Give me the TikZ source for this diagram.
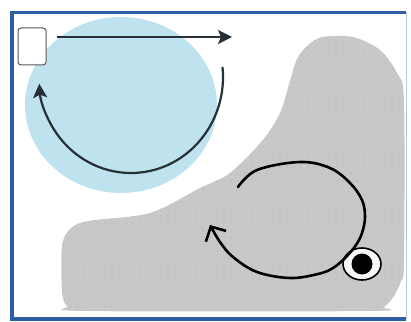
\documentclass[tikz,border=0pt]{standalone}
\usepackage{xcolor}
\usepackage{tikz}
\usetikzlibrary{positioning, arrows.meta, shapes.geometric, patterns.meta}
\definecolor{frameblue}{HTML}{2E5FA6}
\definecolor{skyblue}{HTML}{BFE3EE}
\definecolor{blobgray}{HTML}{C8C8C8}
\definecolor{dotgray}{HTML}{B0B0B0}
\definecolor{inkgray}{HTML}{263036}

\begin{document}
\begin{tikzpicture}[x=1pt, y=1pt,
    cyclearrow/.style={draw=inkgray, line width=2.2pt, -{Stealth[length=14pt, width=14pt, inset=3pt]}},
    looparrow/.style={draw=black, line width=2.6pt, line cap=round, line join=round, -{Straight Barb[length=11pt, width=23pt]}},
    blob/.style={fill=blobgray, postaction={pattern={Dots[radius=0.55pt, distance=7pt]}, pattern color=dotgray}}]
  \useasboundingbox (0,0) rectangle (411,321);

  % light blue zone
  \fill[skyblue] (121,216) ellipse [x radius=96, y radius=88];
  \node[draw=gray!70!black, fill=white, rounded corners=3pt, line width=1pt,
        minimum width=28pt, minimum height=37pt, inner sep=0pt] (card) at (32,274.5) {};
  \coordinate (topend) at (232,284);
  \draw[cyclearrow, line width=1.8pt] ([shift={(10pt,9.5pt)}]card.east) -- (topend);
  \draw[cyclearrow] (131,244) ++(6:92 and 96)
    arc[start angle=6, end angle=-176, x radius=92, y radius=96];

  % gray zone
  \path[blob] plot[smooth cycle, tension=0.5] coordinates {
    (62,30) (62,75) (70,92) (88,100) (150,108) (200,133) (230,148) (262,180)
    (280,208) (290,240) (297,262) (307,275) (322,284) (353,284) (380,271)
    (397,248) (404,220) (404,60) (401,40) (394,25) (384,14) (370,10) (85,10) (67,15)};
  \node[draw=black, ellipse, line width=1.6pt, fill=white!85!blobgray,
        minimum width=38pt, minimum height=32pt, inner sep=0pt] (goal) at (362,57) {};
  \node[circle, fill=black, minimum size=21pt, inner sep=0pt] (goaldot) at (goal) {};
  \draw[looparrow] plot[smooth, tension=0.6] coordinates {
    (238,134) (257,151) (300,159) (330,153) (350,138) (362,121) (365,104)
    (362,88) (356,76) (346,64) (333,53) (318,47) (290,43) (257,49) (233,64)
    (220,79) (210,96)};

  % frame
  \draw[frameblue, line width=3.5pt] (406,308.5) -- (12,308.5) -- (12,2) -- (406,2);
  \draw[frameblue!35, line width=1pt] (406,308.5) -- (406,2);
\end{tikzpicture}
\end{document}
